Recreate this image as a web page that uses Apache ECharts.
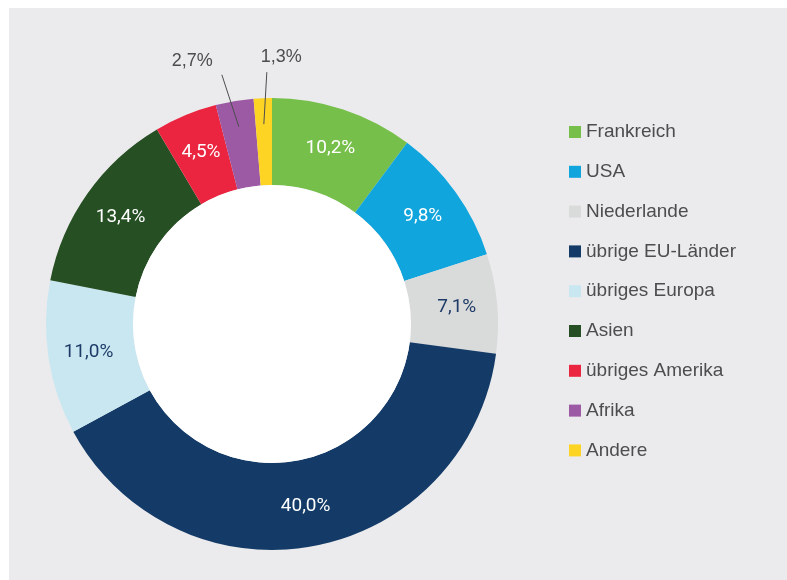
<!DOCTYPE html>
<html>
<head>
<meta charset="utf-8">
<script src="https://cdn.jsdelivr.net/npm/echarts@6/dist/echarts.min.js"></script>
<style>
  html, body { margin: 0; background: #fff; }
  #panel { position: absolute; left: 9px; top: 8px; width: 778px; height: 572px; background: #ebebed; }
  #main { position: absolute; left: 0; top: 0; width: 787px; height: 580px; }
</style>
</head>
<body>
<div id="panel"></div>
<div id="main"></div>
<script>
const categories = ['Frankreich', 'USA', 'Niederlande', 'übrige EU-Länder', 'übriges Europa', 'Asien', 'übriges Amerika', 'Afrika', 'Andere'];
const shares = [10.2, 9.8, 7.1, 40.0, 11.0, 13.4, 4.5, 2.7, 1.3];
const sliceColors = ['#76bf4a', '#10a5dc', '#d9dada', '#143b67', '#c8e7f1', '#274f24', '#eb2540', '#9c59a4', '#fdd424'];

// pale slices get navy labels, the two thin ones get callouts outside
const navyLabelSlices = ['Niederlande', 'übriges Europa'];
const outsideSlices = ['Afrika', 'Andere'];

const fmt = v => v.toFixed(1).replace('.', ',') + '%';
const center = [272, 324];

// callout tweaks, relative to where the leader line leaves the slice
const callout = {
  'Afrika': { tx: -17, ty: -52, dx: -9, dy: -14, align: 'right' },
  'Andere': { tx: 3, ty: -52, dx: -6, dy: -15, align: 'left' }
};

const chart = echarts.init(document.getElementById('main'));

const ringData = categories.map((name, i) => ({
  name: name,
  value: shares[i],
  itemStyle: { color: sliceColors[i] },
  label: {
    show: !outsideSlices.includes(name),
    color: navyLabelSlices.includes(name) ? '#1d3b66' : '#ffffff'
  }
}));

const calloutData = categories.map((name, i) => ({
  name: name,
  value: shares[i],
  label: { show: outsideSlices.includes(name) },
  labelLine: { show: outsideSlices.includes(name) }
}));

const option = {
  animation: false,
  backgroundColor: 'transparent',
  legend: {
    data: categories,
    orient: 'vertical',
    left: 569,
    top: 122,
    padding: 0,
    itemWidth: 12,
    itemHeight: 12,
    itemGap: 19.8,
    icon: 'rect',
    selectedMode: false,
    textStyle: { color: '#4d4d4f', fontSize: 19, lineHeight: 20, fontFamily: 'Liberation Sans' }
  },
  series: [
    {
      type: 'pie',
      center: center,
      radius: [139, 226],
      startAngle: 90,
      clockwise: true,
      silent: true,
      avoidLabelOverlap: false,
      label: {
        position: 'inside',
        formatter: p => fmt(p.value),
        fontFamily: 'Roboto',
        fontSize: 19,
        fontWeight: 'normal'
      },
      labelLine: { show: false },
      data: ringData
    },
    {
      // white hole in the middle
      type: 'pie',
      center: center,
      radius: [0, 139],
      silent: true,
      label: { show: false },
      labelLine: { show: false },
      itemStyle: { color: '#ffffff' },
      data: [{ name: '', value: 1 }]
    },
    {
      // invisible copy, only there to carry the outside callouts
      type: 'pie',
      z: 5,
      center: center,
      radius: [0, 200],
      startAngle: 90,
      clockwise: true,
      silent: true,
      avoidLabelOverlap: false,
      itemStyle: { color: 'rgba(0,0,0,0)' },
      label: {
        position: 'outside',
        formatter: p => fmt(p.value),
        color: '#4d4d4f',
        fontFamily: 'Liberation Sans',
        fontSize: 18
      },
      labelLine: {
        length: 50,
        length2: 0,
        lineStyle: { color: '#4d4d4f', width: 1 }
      },
      labelLayout: function (p) {
        const c = callout[categories[p.dataIndex]];
        if (!c || !p.labelLinePoints) return {};
        const start = p.labelLinePoints[0];
        const tip = [start[0] + c.tx, start[1] + c.ty];
        return {
          x: tip[0] + c.dx,
          y: tip[1] + c.dy,
          align: c.align,
          verticalAlign: 'middle',
          labelLinePoints: [start, tip]
        };
      },
      data: calloutData
    }
  ]
};

chart.setOption(option);
</script>
</body>
</html>
